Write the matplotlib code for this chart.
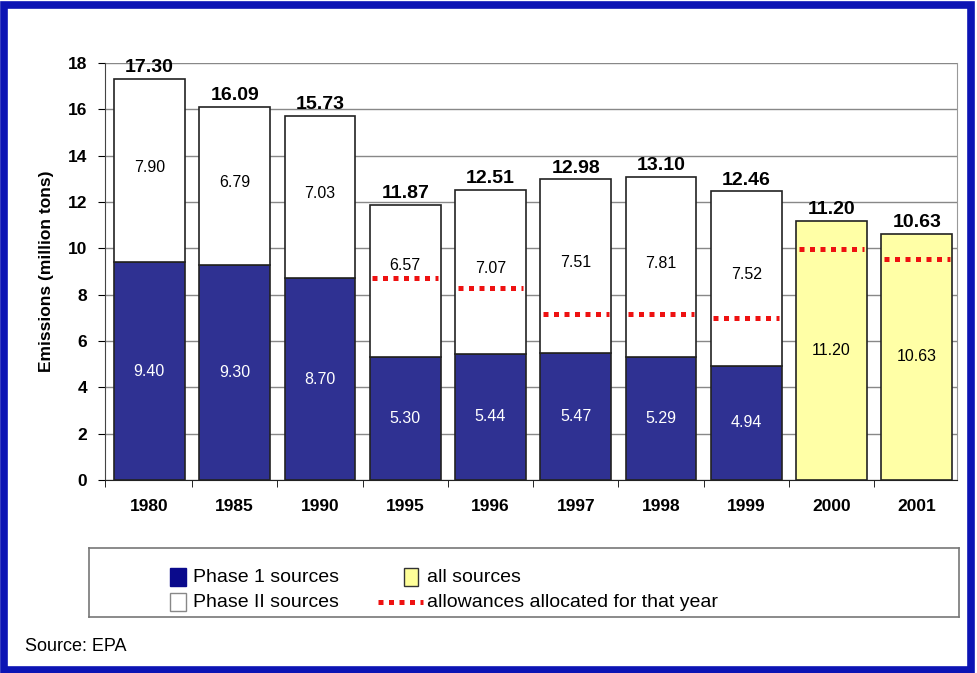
import matplotlib.pyplot as plt
from matplotlib.patches import Rectangle
from matplotlib.lines import Line2D

plt.rcParams['font.family'] = ['Liberation Sans', 'DejaVu Sans']

# datos
years = ['1980', '1985', '1990', '1995', '1996', '1997', '1998', '1999', '2000', '2001']
phase1 = [9.40, 9.30, 8.70, 5.30, 5.44, 5.47, 5.29, 4.94]
phase2 = [7.90, 6.79, 7.03, 6.57, 7.07, 7.51, 7.81, 7.52]
all_src = [11.20, 10.63]
totals = [17.30, 16.09, 15.73, 11.87, 12.51, 12.98, 13.10, 12.46, 11.20, 10.63]
allow_years = ['1995', '1996', '1997', '1998', '1999', '2000', '2001']
allowances = [8.7, 8.3, 7.15, 7.15, 7.0, 9.95, 9.55]

blue = '#2f3192'
yellow = '#ffffa6'
frame_blue = '#0c14b4'
w = 0.83

fig = plt.figure(figsize=(9.77, 6.73), dpi=100)

# marco azul
fig.patches.append(Rectangle((0.004, 0.005), 0.99, 0.988, transform=fig.transFigure,
                             fill=False, edgecolor=frame_blue, linewidth=5.5))

ax = fig.add_axes([0.1075, 0.2868, 0.872, 0.6196])
x = list(range(len(years)))
n1 = len(phase1)
allow = dict(zip(allow_years, allowances))

ax.bar(x[:n1], phase1, width=w, color=blue, edgecolor='#222222', linewidth=1.2, zorder=3)
ax.bar(x[:n1], phase2, bottom=phase1, width=w, color='white', edgecolor='#222222',
       linewidth=1.2, zorder=3)
ax.bar(x[n1:], all_src, width=w, color=yellow, edgecolor='#222222', linewidth=1.2, zorder=3)

for i in range(n1):
    ax.text(x[i], phase1[i] / 2, f'{phase1[i]:.2f}', ha='center', va='center',
            color='white', fontsize=11.5, zorder=5)
    yl = phase1[i] + phase2[i] * 0.52
    if years[i] in allow:
        yl = max(yl, allow[years[i]] + 0.55)
    ax.text(x[i], yl, f'{phase2[i]:.2f}', ha='center',
            va='center', color='black', fontsize=11.5, zorder=5)
for j, v in enumerate(all_src):
    ax.text(x[n1 + j], v / 2, f'{v:.2f}', ha='center', va='center',
            color='black', fontsize=11.5, zorder=5)
for i, t in enumerate(totals):
    ax.text(x[i], t + 0.12, f'{t:.2f}', ha='center', va='bottom', fontsize=14,
            fontweight='bold', zorder=5)

for yr, a in zip(allow_years, allowances):
    i = years.index(yr)
    ax.plot([i - w / 2 + 0.03, i + w / 2 - 0.03], [a, a], color='#ee1111', linewidth=3.6,
            linestyle=(0, (1, 1.1)), solid_capstyle='butt', dash_capstyle='butt', zorder=4)

ax.set_xlim(-0.52, 9.47)
ax.set_ylim(0, 18)
ax.set_yticks(range(0, 19, 2))
ax.set_xticks(x)
ax.set_xticklabels(years, fontsize=12.5, fontweight='bold')
ax.set_xticks([i + 0.5 for i in range(len(years) - 1)] + [-0.52], minor=True)
ax.tick_params(axis='x', which='major', length=0, pad=14)
ax.tick_params(axis='x', which='minor', length=5, direction='out')
ax.tick_params(axis='y', labelsize=12.5, length=5, direction='out', pad=8)
for lbl in ax.get_yticklabels():
    lbl.set_fontweight('bold')
ax.grid(axis='y', color='#888888', linewidth=1, zorder=0)
ax.set_ylabel('Emissions (million tons)', fontsize=12.5, fontweight='bold', labelpad=10)
ax.spines['top'].set_visible(False)
ax.spines['right'].set_color('#999999')
ax.spines['left'].set_color('#444444')
ax.spines['bottom'].set_color('#222222')

# leyenda
lg = fig.add_axes([0.091, 0.083, 0.891, 0.102])
lg.set_xlim(0, 1)
lg.set_ylim(0, 1)
lg.set_xticks([])
lg.set_yticks([])
for s in lg.spines.values():
    s.set_color('#777777')
    s.set_linewidth(1.2)

def px(xp):
    return (xp - 89) / 870.0

r1, r2, h = 0.58, 0.22, 0.26
lg.add_patch(Rectangle((px(170), r1 - h / 2), px(186) - px(170), h, facecolor='#0a0a8c',
                       edgecolor='#0a0a8c'))
lg.text(px(193), r1, 'Phase 1 sources', va='center', fontsize=14)
lg.add_patch(Rectangle((px(170), r2 - h / 2), px(186) - px(170), h, facecolor='white',
                       edgecolor='#888888'))
lg.text(px(193), r2, 'Phase II sources', va='center', fontsize=14)
lg.add_patch(Rectangle((px(404), r1 - h / 2), px(418) - px(404), h, facecolor='#ffff99',
                       edgecolor='#333333'))
lg.text(px(427), r1, 'all sources', va='center', fontsize=14)
lg.add_line(Line2D([px(378), px(423)], [r2, r2], color='#ee1111', linewidth=3.6,
                   linestyle=(0, (1, 1.1)), dash_capstyle='butt'))
lg.text(px(427), r2, 'allowances allocated for that year', va='center', fontsize=14)

fig.text(0.026, 0.04, 'Source: EPA', fontsize=13, va='center')

fig.savefig('out.png', dpi=100)
